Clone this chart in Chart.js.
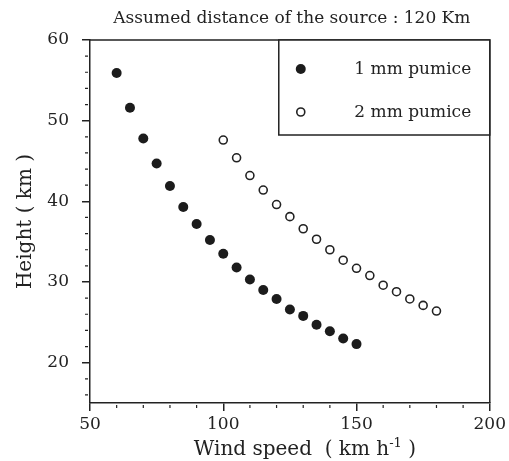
<!DOCTYPE html>
<html>
<head>
<meta charset="utf-8">
<script src="https://cdn.jsdelivr.net/npm/chart.js@4.4.1/dist/chart.umd.min.js"></script>
<style>
  html, body { margin: 0; padding: 0; background: #fff; }
</style>
</head>
<body>
<canvas id="graf" width="509" height="461"></canvas>
<script>
// datos
const chartTitle = "Assumed distance of the source : 120 Km";
const speed1mm = [60, 65, 70, 75, 80, 85, 90, 95, 100, 105, 110, 115, 120, 125, 130, 135, 140, 145, 150];
const height1mm = [55.9, 51.6, 47.8, 44.7, 41.9, 39.3, 37.2, 35.2, 33.5, 31.8, 30.3, 29.0, 27.9, 26.6, 25.8, 24.7, 23.9, 23.0, 22.3];
const speed2mm = [100, 105, 110, 115, 120, 125, 130, 135, 140, 145, 150, 155, 160, 165, 170, 175, 180];
const height2mm = [47.6, 45.4, 43.2, 41.4, 39.6, 38.1, 36.6, 35.3, 34.0, 32.7, 31.7, 30.8, 29.6, 28.8, 27.9, 27.1, 26.4];
const xTicks = [50, 100, 150, 200];
const yTicks = [20, 30, 40, 50, 60];
const xMinor = [60, 70, 80, 90, 110, 120, 130, 140, 160, 170, 180, 190];
const yMinor = [16, 18, 22, 24, 26, 28, 32, 34, 36, 38, 42, 44, 46, 48, 52, 54, 56, 58];

const FONT = "'DejaVu Serif', 'Liberation Serif', serif";
const INK = "#222";

const marcoPlugin = {
  id: "marco",
  afterDatasetsDraw(chart) {
    const { ctx, chartArea: a, scales } = chart;
    ctx.save();
    ctx.strokeStyle = INK;
    ctx.lineWidth = 1.5;
    // borde superior y derecho
    ctx.beginPath();
    ctx.moveTo(a.left, a.top);
    ctx.lineTo(a.right, a.top);
    ctx.lineTo(a.right, a.bottom);
    ctx.stroke();

    // ticks menores
    ctx.lineWidth = 1.2;
    ctx.beginPath();
    xMinor.forEach(v => {
      const px = scales.x.getPixelForValue(v);
      ctx.moveTo(px, a.bottom + 2);
      ctx.lineTo(px, a.bottom + 5);
    });
    yMinor.forEach(v => {
      const py = scales.y.getPixelForValue(v);
      ctx.moveTo(a.left - 2, py);
      ctx.lineTo(a.left - 5, py);
    });
    ctx.stroke();

    // leyenda en recuadro
    const lw = 211, lh = 95;
    const lx = a.right - lw, ly = a.top;
    ctx.fillStyle = "#fff";
    ctx.fillRect(lx, ly, lw, lh);
    ctx.lineWidth = 1.5;
    ctx.strokeRect(lx, ly, lw, lh);
    ctx.font = "17px " + FONT;
    ctx.textAlign = "center";
    ctx.textBaseline = "middle";
    chart.data.datasets.forEach((ds, i) => {
      const cy = ly + 29 + i * 43;
      ctx.beginPath();
      ctx.arc(lx + 22, cy, ds.pointRadius, 0, Math.PI * 2);
      ctx.fillStyle = ds.backgroundColor;
      ctx.fill();
      if (ds.borderWidth) {
        ctx.lineWidth = ds.borderWidth;
        ctx.strokeStyle = ds.borderColor;
        ctx.stroke();
      }
      ctx.fillStyle = INK;
      ctx.fillText(ds.label, lx + 134, cy + 1);
    });

    // titulo
    ctx.font = "17px " + FONT;
    ctx.fillStyle = INK;
    ctx.fillText(chartTitle, (a.left + a.right) / 2 + 2, 19);

    // titulo del eje x con superindice
    const partes = [["Wind speed  ( km h", 20, 0], ["-1", 13, -8], [" )", 20, 0]];
    let total = 0;
    partes.forEach(p => { ctx.font = p[1] + "px " + FONT; total += ctx.measureText(p[0]).width; });
    let x0 = (a.left + a.right) / 2 + 15 - total / 2;
    ctx.textAlign = "left";
    ctx.textBaseline = "alphabetic";
    partes.forEach(p => {
      ctx.font = p[1] + "px " + FONT;
      ctx.fillText(p[0], x0, 455 + p[2]);
      x0 += ctx.measureText(p[0]).width;
    });
    ctx.restore();
  }
};

new Chart(document.getElementById("graf"), {
  type: "scatter",
  data: {
    datasets: [
      {
        label: "1 mm pumice",
        data: speed1mm.map((x, i) => ({ x, y: height1mm[i] })),
        pointRadius: 5,
        backgroundColor: "#1c1c1c",
        borderColor: "#1c1c1c",
        borderWidth: 0
      },
      {
        label: "2 mm pumice",
        data: speed2mm.map((x, i) => ({ x, y: height2mm[i] })),
        pointRadius: 4,
        backgroundColor: "#fff",
        borderColor: "#222",
        borderWidth: 1.6
      }
    ]
  },
  options: {
    responsive: false,
    animation: false,
    devicePixelRatio: 1,
    layout: { padding: { top: 40, right: 19, left: 0, bottom: 0 } },
    plugins: { legend: { display: false }, tooltip: { enabled: false } },
    scales: {
      x: {
        type: "linear",
        min: 50, max: 200,
        afterBuildTicks: s => { s.ticks = xTicks.map(v => ({ value: v })); },
        afterFit: s => { s.height = 58; },
        grid: { drawOnChartArea: false, tickLength: 8, color: INK, lineWidth: 1.5 },
        border: { color: INK, width: 1.5 },
        ticks: { color: INK, font: { family: FONT, size: 17 }, padding: 3, maxRotation: 0 }
      },
      y: {
        type: "linear",
        min: 15, max: 60,
        afterBuildTicks: s => { s.ticks = yTicks.map(v => ({ value: v })); },
        afterFit: s => { s.width = 90; },
        grid: { drawOnChartArea: false, tickLength: 8, color: INK, lineWidth: 1.5 },
        border: { color: INK, width: 1.5 },
        ticks: { color: INK, font: { family: FONT, size: 17 }, padding: 13 },
        title: { display: true, text: "Height ( km )", color: INK, font: { family: FONT, size: 20 }, padding: { top: 14 } }
      }
    }
  },
  plugins: [marcoPlugin]
});
</script>
</body>
</html>
